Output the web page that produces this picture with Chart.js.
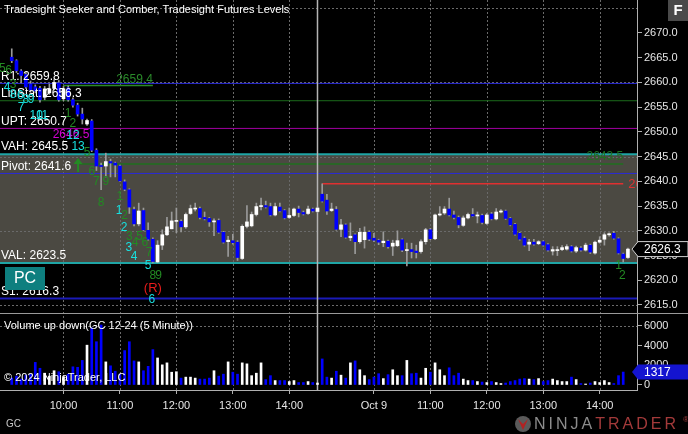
<!DOCTYPE html>
<html>
<head>
<meta charset="utf-8">
<script src="https://cdn.jsdelivr.net/npm/chart.js@4.4.0/dist/chart.umd.min.js"></script>
<style>
  html, body { margin: 0; padding: 0; background: #000; }
  #wrap { width: 688px; height: 434px; position: relative; }
</style>
</head>
<body>
<div id="wrap"><canvas id="c" width="688" height="434"></canvas></div>
<script>
// 5 minute bars, GC 12-24, two sessions (9:05 .. 14:30)
const opens = [
  2665.1, 2664.4, 2662.3, 2661.6, 2659.7, 2659.1, 2658.8, 2657.0, 2657.9, 2658.8, 2659.9,
  2656.7, 2658.9, 2656.5, 2655.4, 2653.6, 2651.6, 2652.2, 2646.3, 2643.2, 2643.1,
  2644.0, 2643.7, 2643.1, 2639.9, 2638.3, 2634.3, 2631.4, 2634.1, 2630.1, 2628.3,
  2623.7, 2627.1, 2629.2, 2630.4, 2631.9, 2631.9, 2630.8, 2633.5, 2634.4, 2634.5,
  2632.7, 2632.5, 2631.8, 2632.1, 2629.7, 2627.8, 2628.0, 2627.7, 2624.4, 2630.9,
  2631.0, 2633.3, 2634.9, 2635.1, 2634.9, 2633.2, 2634.8, 2634.1, 2632.7, 2633.1,
  2634.4, 2633.7, 2633.5, 2634.4, 2633.9,
  2637.4, 2636.2, 2634.1, 2634.3, 2630.3, 2631.2, 2628.6, 2629.2, 2627.8, 2628.2,
  2629.7, 2628.5, 2628.1, 2627.6, 2627.9, 2626.9, 2627.0, 2628.2, 2626.0, 2626.2,
  2625.9, 2625.8, 2627.8, 2630.2, 2628.4, 2633.2, 2633.6, 2634.4, 2633.2, 2632.7,
  2631.1, 2632.6, 2633.3, 2633.0, 2633.1, 2631.5, 2633.4, 2632.4, 2633.8, 2634.0,
  2632.5, 2631.3, 2629.5, 2628.5, 2627.3, 2627.7, 2627.4, 2627.8, 2627.2, 2625.9,
  2626.0, 2626.2, 2626.3, 2626.8, 2625.9, 2626.5, 2626.1, 2627.1, 2625.5, 2627.7,
  2628.3, 2629.2, 2629.5, 2628.4, 2625.3, 2624.6
];
const highs = [
  2666.8, 2664.6, 2662.6, 2662.0, 2660.3, 2659.5, 2659.2, 2659.2, 2659.7, 2660.6, 2660.4,
  2659.2, 2659.3, 2656.9, 2655.8, 2654.8, 2652.6, 2652.5, 2646.6, 2643.7, 2645.7,
  2644.5, 2643.9, 2643.3, 2640.3, 2638.5, 2634.8, 2635.6, 2634.6, 2631.6, 2628.6,
  2628.0, 2630.2, 2632.7, 2633.8, 2634.6, 2632.2, 2633.6, 2635.2, 2635.6, 2634.8,
  2633.8, 2632.7, 2632.4, 2632.4, 2629.9, 2628.9, 2629.3, 2628.0, 2631.2, 2635.1,
  2633.8, 2635.6, 2636.6, 2636.0, 2635.6, 2635.6, 2635.6, 2634.3, 2634.6, 2634.6,
  2635.0, 2634.0, 2635.0, 2634.6, 2634.8,
  2639.5, 2637.4, 2635.6, 2634.9, 2632.3, 2631.4, 2631.6, 2629.4, 2630.5, 2630.8,
  2630.0, 2629.5, 2628.3, 2629.8, 2628.1, 2628.1, 2630.0, 2628.4, 2627.5, 2627.5,
  2627.1, 2628.2, 2630.5, 2630.5, 2633.4, 2634.9, 2634.9, 2636.6, 2634.0, 2633.0,
  2633.0, 2633.6, 2634.5, 2633.8, 2633.4, 2633.5, 2633.7, 2634.5, 2634.3, 2634.2,
  2632.7, 2631.5, 2629.7, 2628.8, 2628.3, 2628.3, 2628.0, 2628.0, 2627.4, 2626.8,
  2626.8, 2627.0, 2627.2, 2627.0, 2626.9, 2626.8, 2627.5, 2627.3, 2627.9, 2628.8,
  2629.6, 2629.6, 2629.9, 2628.6, 2625.5, 2626.5
];
const lows = [
  2664.0, 2662.0, 2659.9, 2658.8, 2658.0, 2657.9, 2656.0, 2656.5, 2657.6, 2658.5, 2656.2,
  2656.3, 2656.2, 2655.0, 2653.2, 2651.6, 2651.3, 2646.0, 2642.2, 2638.3, 2640.9,
  2640.9, 2640.9, 2640.0, 2638.1, 2633.5, 2631.0, 2631.0, 2630.0, 2628.1, 2623.5,
  2623.6, 2626.2, 2629.0, 2630.4, 2629.6, 2629.8, 2630.5, 2633.3, 2634.0, 2632.4,
  2632.2, 2630.9, 2629.0, 2629.5, 2627.5, 2624.8, 2627.3, 2624.0, 2624.2, 2630.6,
  2630.8, 2633.0, 2634.2, 2634.6, 2633.0, 2633.0, 2633.8, 2632.4, 2632.5, 2632.9,
  2632.8, 2633.2, 2633.3, 2633.8, 2633.7,
  2635.8, 2633.3, 2633.9, 2630.1, 2628.8, 2628.5, 2628.0, 2625.4, 2627.5, 2626.5,
  2628.0, 2627.8, 2627.2, 2626.8, 2626.5, 2625.0, 2626.8, 2625.8, 2622.9, 2624.5,
  2624.5, 2625.5, 2627.3, 2628.2, 2628.2, 2633.0, 2633.3, 2633.0, 2632.4, 2630.6,
  2630.9, 2632.4, 2632.9, 2631.6, 2631.4, 2631.3, 2632.2, 2632.2, 2633.6, 2632.3,
  2631.0, 2629.1, 2628.1, 2626.9, 2626.0, 2627.1, 2627.2, 2626.9, 2625.9, 2625.1,
  2625.0, 2626.0, 2626.1, 2625.7, 2625.6, 2625.9, 2625.9, 2625.4, 2625.3, 2627.5,
  2627.1, 2628.9, 2628.3, 2625.3, 2623.7, 2624.4
];
const closes = [
  2664.4, 2662.4, 2661.4, 2659.1, 2658.5, 2658.3, 2656.5, 2658.7, 2658.7, 2660.0, 2656.5,
  2658.7, 2656.5, 2655.4, 2653.6, 2652.6, 2652.3, 2646.3, 2643.1, 2643.0, 2644.0,
  2643.7, 2643.3, 2640.1, 2638.4, 2634.8, 2631.4, 2634.0, 2630.2, 2628.3, 2623.8,
  2627.1, 2629.2, 2630.8, 2632.0, 2632.1, 2630.8, 2633.3, 2634.5, 2634.6, 2632.7,
  2632.4, 2631.8, 2632.0, 2629.7, 2627.7, 2628.1, 2627.6, 2624.6, 2630.9, 2631.8,
  2633.3, 2634.9, 2635.1, 2634.8, 2633.2, 2634.9, 2634.0, 2632.6, 2633.1, 2634.4,
  2633.7, 2633.4, 2634.4, 2634.0, 2634.6,
  2636.0, 2634.0, 2634.4, 2630.3, 2631.2, 2628.7, 2628.9, 2627.8, 2629.7, 2629.7,
  2628.3, 2628.1, 2627.7, 2627.9, 2626.8, 2627.5, 2628.0, 2626.1, 2626.1, 2625.8,
  2625.6, 2627.8, 2630.2, 2628.4, 2633.2, 2633.4, 2634.4, 2633.2, 2632.7, 2631.2,
  2632.6, 2633.3, 2633.0, 2633.2, 2631.7, 2633.2, 2632.4, 2633.8, 2634.0, 2632.5,
  2631.2, 2629.3, 2628.3, 2627.1, 2627.7, 2627.3, 2627.8, 2627.1, 2626.1, 2626.2,
  2626.2, 2626.6, 2626.8, 2625.9, 2626.6, 2626.1, 2627.1, 2625.7, 2627.7, 2628.1,
  2629.2, 2629.3, 2628.5, 2625.5, 2624.4, 2626.3
];
const volumes = [
  700, 900, 600, 1000, 1100, 2300, 1700, 1200, 900, 1450, 1350,
  850, 1100, 1850, 1800, 2500, 4050, 5800, 4400, 6100, 2350,
  1950, 1400, 1100, 3500, 4400, 2450, 2350, 1450, 1900, 3600,
  2750, 2050, 2250, 1300, 1350, 700, 800, 800, 700, 600,
  600, 700, 1450, 900, 1100, 2350, 1300, 1100, 2250, 2150,
  950, 1200, 2250, 550, 950, 450, 450, 450, 350, 450,
  250, 250, 350, 250, 200,
  2650, 800, 700, 1400, 1000, 700, 2250, 2450, 1550, 950,
  550, 800, 1150, 650, 1050, 1550, 950, 950, 2500, 1150,
  1200, 700, 1700, 1300, 2250, 1550, 950, 1750, 950, 1200,
  600, 450, 450, 350, 300, 250, 350, 250, 150, 200,
  350, 450, 600, 650, 600, 550, 650, 350, 450, 600,
  450, 350, 350, 800, 550, 150, 100, 200, 350, 250,
  450, 250, 150, 950, 1317, null
];

const tickBars = [11, 23, 35, 47, 59, 77, 89, 101, 113, 125];
const tickLabels = ['10:00', '11:00', '12:00', '13:00', '14:00', 'Oct 9', '11:00', '12:00', '13:00', '14:00'];
const priceTicks = [2615, 2620, 2625, 2630, 2635, 2640, 2645, 2650, 2655, 2660, 2665, 2670];
const priceGrid = [2615, 2630, 2645, 2660, 2675];
const volumeTicks = [0, 2000, 4000, 6000];
const sessionBar = 65;

// Tradesight levels
const levelNames = ['R1', 'LinStat', 'UPT', 'VAH', 'Pivot', 'VAL', 'S1'];
const levelValues = [2659.8, 2656.3, 2650.7, 2645.5, 2641.6, 2623.5, 2616.3];
const segValues = [2659.4, 2643.5, 2639.5];
const segFrom = [11, 14.5, 66];
const segTo = [30, 130, 130];

// seeker / comber counts: [text, bar, price]
const comberMarks = [
  ['5', -2, 2662.7], ['6', -0.7, 2662.3], ['3', 0.3, 2659.5],
  ['1', 12, 2653.6], ['2', 13, 2651.6], ['5', 16, 2645.7], ['6', 17, 2641.9],
  ['7', 18, 2639.9], ['8', 19, 2635.6], ['9', 20, 2639.9],
  ['1', 23, 2636.8], ['2', 24, 2633.0], ['3', 25, 2628.9], ['4', 26.2, 2627.5],
  ['5', 27.2, 2628.9], ['6', 28.3, 2627.5], ['7', 29.2, 2625.5],
  ['8', 30, 2620.9], ['9', 31.2, 2620.9], ['1', 129, 2622.9], ['2', 129.8, 2620.9]
];
const seekerMarks = [
  ['4', -1, 2658.9], ['8', 0.3, 2657.5], ['6', 1.8, 2657.3], ['8', 3, 2656.5], ['9', 4.1, 2656.5],
  ['7', 2, 2654.9], ['10', 5.2, 2653.3], ['11', 6.4, 2653.3], ['12', 13, 2649.2], ['13', 14.1, 2647.1],
  ['1', 22.8, 2634.0], ['2', 23.9, 2630.6], ['3', 24.9, 2626.5], ['4', 26, 2624.7],
  ['5', 29, 2622.9], ['6', 29.8, 2616.0]
];
const reversalMarks = [['(R)', 30, 2618.4]];
const targetMarks = [['2646.5', 12.6, 2649.4]];
const arrowMarks = [[14.1, 2643.3]];

const FONT = "'Liberation Sans', Arial, sans-serif";
Chart.defaults.font.family = FONT;

const BLUE = '#0000ff';
const isDown = i => closes[i] < opens[i];
const bars = opens.map((o, i) => i);

const levelStyle = {
  R1: { color: '#2a2ad8', width: 1 },
  LinStat: { color: '#1c6b1c', width: 1 },
  UPT: { color: '#a000a0', width: 1 },
  VAH: { color: '#1fa5a5', width: 2 },
  Pivot: { color: '#2a2ad8', width: 1 },
  VAL: { color: '#1fa5a5', width: 2 },
  S1: { color: '#1a1ab8', width: 2 }
};
const segColors = ['#2a8a2a', '#1f6f1f', '#e03030'];

function hline(ctx, x0, x1, y, color, w, dash) {
  ctx.save();
  ctx.strokeStyle = color;
  ctx.lineWidth = w;
  if (dash) ctx.setLineDash(dash);
  ctx.beginPath();
  ctx.moveTo(x0, y);
  ctx.lineTo(x1, y);
  ctx.stroke();
  ctx.restore();
}

function tagBox(ctx, y, text, fill, stroke) {
  const x0 = 632, x1 = 688, h = 15;
  ctx.save();
  ctx.beginPath();
  ctx.moveTo(x0, y);
  ctx.lineTo(x0 + 6, y - h / 2);
  ctx.lineTo(x1, y - h / 2);
  ctx.lineTo(x1, y + h / 2);
  ctx.lineTo(x0 + 6, y + h / 2);
  ctx.closePath();
  ctx.fillStyle = fill;
  ctx.fill();
  if (stroke) {
    ctx.strokeStyle = stroke;
    ctx.lineWidth = 1;
    ctx.stroke();
  }
  ctx.fillStyle = '#ffffff';
  ctx.font = '12px ' + FONT;
  ctx.textAlign = 'left';
  ctx.textBaseline = 'middle';
  ctx.fillText(text, 644, y + 1);
  ctx.restore();
}

const ninjaPlugin = {
  id: 'ninja',
  beforeDatasetsDraw(chart) {
    const ctx = chart.ctx;
    const a = chart.chartArea;
    const xs = chart.scales.x, ys = chart.scales.y, yv = chart.scales.yv;

    // value area fill
    const yTop = ys.getPixelForValue(levelValues[3]);
    const yBot = ys.getPixelForValue(levelValues[5]);
    ctx.fillStyle = '#4b4942';
    ctx.fillRect(a.left, yTop, a.right - a.left, yBot - yTop);

    // dotted grid
    priceGrid.forEach(v => {
      const y = Math.round(ys.getPixelForValue(v)) + 0.5;
      if (y > ys.top && y < ys.bottom) hline(ctx, a.left, a.right, y, '#6a6a6a', 1, [2, 2]);
    });
    hline(ctx, a.left, a.right, Math.round(yv.getPixelForValue(6000)) + 0.5, '#6a6a6a', 1, [2, 2]);
    ctx.save();
    ctx.strokeStyle = '#6a6a6a';
    ctx.setLineDash([2, 2]);
    tickBars.forEach(b => {
      const x = Math.round(xs.getPixelForValue(b)) + 0.5;
      ctx.beginPath();
      ctx.moveTo(x, a.top);
      ctx.lineTo(x, a.bottom);
      ctx.stroke();
    });
    ctx.restore();

    // pane divider
    hline(ctx, 0, 688, ys.bottom + 0.5, '#9a9a9a', 1);

    // level lines
    levelNames.forEach((n, k) => {
      const y = ys.getPixelForValue(levelValues[k]);
      hline(ctx, a.left, a.right, y, levelStyle[n].color, levelStyle[n].width);
    });
    segValues.forEach((v, k) => {
      const y = ys.getPixelForValue(v);
      hline(ctx, xs.getPixelForValue(segFrom[k]), xs.getPixelForValue(segTo[k]), y, segColors[k], 1.5);
    });

    // session marker
    const sx = xs.getPixelForValue(sessionBar);
    ctx.save();
    ctx.strokeStyle = '#b4b4b4';
    ctx.lineWidth = 1.5;
    ctx.beginPath();
    ctx.moveTo(sx, 0);
    ctx.lineTo(sx, a.bottom);
    ctx.stroke();
    ctx.restore();
  },
  afterDraw(chart) {
    const ctx = chart.ctx;
    const a = chart.chartArea;
    const xs = chart.scales.x, ys = chart.scales.y, yv = chart.scales.yv;
    ctx.save();
    ctx.textBaseline = 'middle';

    // level labels
    ctx.font = '12px ' + FONT;
    ctx.fillStyle = '#ffffff';
    ctx.textAlign = 'left';
    levelNames.forEach((n, k) => {
      const y = ys.getPixelForValue(levelValues[k]);
      ctx.fillText(n + ': ' + levelValues[k].toFixed(1), 1, y - 7);
    });

    // segment labels
    ctx.fillStyle = segColors[0];
    ctx.textAlign = 'right';
    ctx.fillText(segValues[0].toFixed(1), xs.getPixelForValue(segTo[0]), ys.getPixelForValue(segValues[0]) - 6);
    ctx.fillStyle = segColors[1];
    ctx.fillText(segValues[1].toFixed(1), xs.getPixelForValue(segTo[1]), ys.getPixelForValue(segValues[1]) - 7);
    ctx.save();
    ctx.beginPath();
    ctx.rect(a.left, a.top, a.right - a.left, ys.bottom - a.top);
    ctx.clip();
    ctx.fillStyle = segColors[2];
    ctx.textAlign = 'left';
    ctx.font = '13px ' + FONT;
    ctx.fillText(segValues[2].toFixed(1), xs.getPixelForValue(segTo[2]) + 5, ys.getPixelForValue(segValues[2]) + 1);
    ctx.restore();

    // counts
    ctx.textAlign = 'center';
    ctx.font = '12px ' + FONT;
    const marks = (list, color) => {
      ctx.fillStyle = color;
      list.forEach(m => ctx.fillText(m[0], xs.getPixelForValue(m[1]), ys.getPixelForValue(m[2])));
    };
    marks(targetMarks, '#d400d4');
    marks(comberMarks, '#238a23');
    marks(seekerMarks, '#18e0e0');
    ctx.font = '13px ' + FONT;
    marks(reversalMarks, '#e81c1c');

    // pivot arrow
    arrowMarks.forEach(m => {
      const x = xs.getPixelForValue(m[0]), y = ys.getPixelForValue(m[1]);
      ctx.fillStyle = '#238a23';
      ctx.fillRect(x - 1, y - 2, 2, 9);
      ctx.beginPath();
      ctx.moveTo(x - 4.5, y - 1);
      ctx.lineTo(x, y - 7);
      ctx.lineTo(x + 4.5, y - 1);
      ctx.closePath();
      ctx.fill();
    });

    // PC button
    ctx.fillStyle = '#0e7f7f';
    ctx.fillRect(5, 267, 40, 23);
    ctx.fillStyle = '#ffffff';
    ctx.font = '16px ' + FONT;
    ctx.fillText('PC', 25, 279);

    // titles
    ctx.textAlign = 'left';
    ctx.font = '11px ' + FONT;
    ctx.fillStyle = '#ffffff';
    ctx.fillText('Tradesight Seeker and Comber, Tradesight Futures Levels', 4, 10);
    ctx.fillText('Volume up down(GC 12-24 (5 Minute))', 4, 326);
    ctx.fillText('\u00a9 2024 NinjaTrader, LLC', 4, 378);
    ctx.fillStyle = '#c8c8c8';
    ctx.font = '10px ' + FONT;
    ctx.fillText('GC', 6, 424);

    // F button
    ctx.fillStyle = '#4a4a4a';
    ctx.fillRect(668, 0, 20, 21);
    ctx.fillStyle = '#ffffff';
    ctx.font = 'bold 15px ' + FONT;
    ctx.textAlign = 'center';
    ctx.fillText('F', 678, 11);

    // logo
    ctx.beginPath();
    ctx.arc(523, 424, 8, 0, Math.PI * 2);
    ctx.fillStyle = '#5a5a5a';
    ctx.fill();
    ctx.beginPath();
    ctx.moveTo(518, 419);
    ctx.lineTo(523, 430);
    ctx.lineTo(528, 419);
    ctx.lineTo(523, 424);
    ctx.closePath();
    ctx.fillStyle = '#b22222';
    ctx.fill();
    ctx.textAlign = 'left';
    ctx.font = '16px ' + FONT;
    ctx.letterSpacing = '3px';
    ctx.fillStyle = '#8c8c8c';
    ctx.fillText('NINJA', 534, 425);
    const w = ctx.measureText('NINJA').width;
    ctx.fillStyle = '#a33a3a';
    ctx.fillText('TRADER', 534 + w, 425);
    ctx.letterSpacing = '0px';
    ctx.font = '8px ' + FONT;
    ctx.fillText('\u00ae', 683, 420);

    ctx.restore();

    // last value tags
    tagBox(ctx, ys.getPixelForValue(closes[closes.length - 1]), closes[closes.length - 1].toFixed(1), '#000000', '#d0d0d0');
    const lastVol = volumes[volumes.length - 2];
    tagBox(ctx, yv.getPixelForValue(lastVol), String(lastVol), '#1414d0', null);
  }
};

const noPad = s => { s.paddingTop = 0; s.paddingBottom = 0; s.paddingLeft = 0; s.paddingRight = 0; };
const tickFont = { family: FONT, size: 11 };

const ctx = document.getElementById('c').getContext('2d');
const chart = new Chart(ctx, {
  type: 'bar',
  data: {
    datasets: [
      {
        label: 'bodies',
        data: bars.map(i => ({ x: i, y: [opens[i], closes[i]] })),
        backgroundColor: bars.map(i => isDown(i) ? BLUE : '#ffffff'),
        barThickness: 3,
        minBarLength: 1,
        yAxisID: 'y'
      },
      {
        label: 'wicks',
        data: bars.map(i => ({ x: i, y: [lows[i], highs[i]] })),
        backgroundColor: '#9a9a9a',
        barThickness: 1,
        yAxisID: 'y'
      },
      {
        label: 'volume',
        data: bars.map(i => ({ x: i, y: volumes[i] })),
        backgroundColor: bars.map(i => isDown(i) ? BLUE : '#ffffff'),
        barThickness: 2,
        yAxisID: 'yv'
      }
    ]
  },
  options: {
    responsive: false,
    animation: false,
    devicePixelRatio: 1,
    layout: { padding: 0 },
    datasets: { bar: { grouped: false } },
    plugins: { legend: { display: false }, tooltip: { enabled: false } },
    scales: {
      x: {
        type: 'linear',
        position: 'bottom',
        min: -2.5,
        max: 132.93,
        offset: false,
        afterBuildTicks: s => { s.ticks = tickBars.map(v => ({ value: v })); },
        afterFit: s => { s.height = 44; noPad(s); },
        ticks: {
          color: '#e6e6e6', font: tickFont, autoSkip: false, maxRotation: 0, padding: 5,
          callback: v => tickLabels[tickBars.indexOf(v)]
        },
        grid: { drawOnChartArea: false, offset: false, color: '#b0b0b0', tickLength: 4 },
        border: { color: '#b0b0b0' }
      },
      y: {
        position: 'right',
        stack: 'pane',
        stackWeight: 313,
        min: 2613.38,
        max: 2676.67,
        afterBuildTicks: s => { s.ticks = priceTicks.map(v => ({ value: v })); },
        afterFit: s => { s.width = 51; noPad(s); },
        ticks: { color: '#e6e6e6', font: tickFont, padding: 2, autoSkip: false, callback: v => v.toFixed(1) },
        grid: { drawOnChartArea: false, color: '#b0b0b0', tickLength: 5 },
        border: { color: '#b0b0b0' }
      },
      yv: {
        position: 'right',
        stack: 'pane',
        stackWeight: 77,
        min: -509,
        max: 7322,
        afterBuildTicks: s => { s.ticks = volumeTicks.map(v => ({ value: v })); },
        afterFit: s => { s.width = 51; noPad(s); },
        ticks: { color: '#e6e6e6', font: tickFont, padding: 2, autoSkip: false, callback: v => String(v) },
        grid: { drawOnChartArea: false, color: '#b0b0b0', tickLength: 5 },
        border: { color: '#b0b0b0' }
      }
    }
  },
  plugins: [ninjaPlugin]
});
</script>
</body>
</html>
